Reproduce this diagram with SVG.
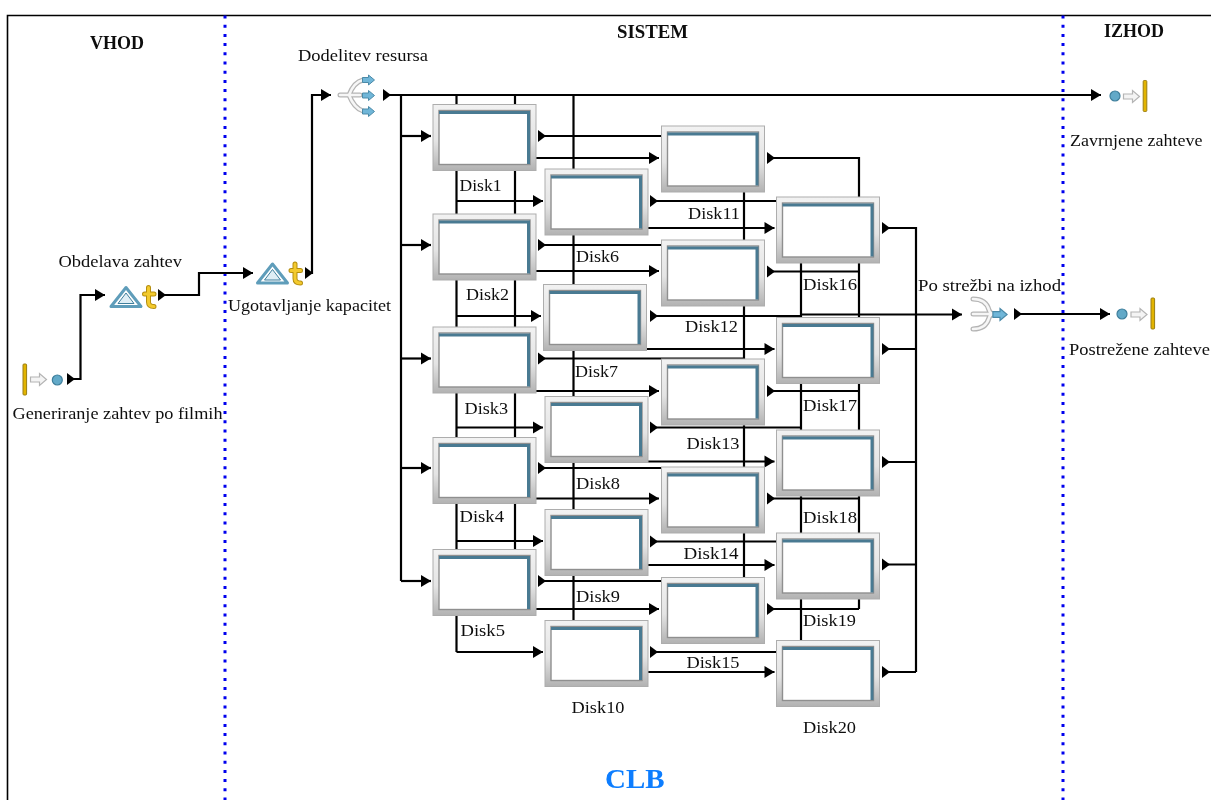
<svg xmlns="http://www.w3.org/2000/svg" xmlns:xlink="http://www.w3.org/1999/xlink" width="1211" height="800" viewBox="0 0 1211 800">
<style>
text{font-family:"Liberation Serif","Times New Roman",serif;font-size:17px;fill:#111}
.h{font-weight:bold;font-size:18px}
.clb{font-weight:bold;font-size:28px;fill:#0a7dff}
.c{fill:none;stroke:#000;stroke-width:2.2}
.a{marker-end:url(#arrow)}
.p{marker-start:url(#port)}
.d{fill:none;stroke:#0000ee;stroke-width:3;stroke-dasharray:3 6.2}
.ar{stroke:#4c8aa8;stroke-width:1;fill:#6fb6d8}
.wa{stroke:#b4b4b4;stroke-width:1.2;fill:#f4f4f4}
.bar{fill:#e2b400;stroke:#9a7d10;stroke-width:1}
.dot{fill:#62a9c8;stroke:#3f7f9c;stroke-width:1.2}
.arm{fill:none;stroke:#b4b4b4;stroke-width:5;stroke-linecap:round}
.armi{fill:none;stroke:#f6f6f6;stroke-width:2.6;stroke-linecap:round}
</style>
<defs>
<filter id="soft" x="0" y="0" width="100%" height="100%" filterUnits="userSpaceOnUse" primitiveUnits="userSpaceOnUse"><feGaussianBlur stdDeviation="0.4"/></filter>
<linearGradient id="frame" x1="0" y1="0" x2="0" y2="1"><stop offset="0" stop-color="#f2f2f2"/><stop offset="0.55" stop-color="#e4e4e4"/><stop offset="1" stop-color="#b2b2b2"/></linearGradient>
<marker id="arrow" markerUnits="userSpaceOnUse" markerWidth="11" markerHeight="13" refX="10.5" refY="6.5" orient="auto"><path d="M0.5,0.5 L10.5,6.5 L0.5,12.5 Z" fill="#000"/></marker>
<marker id="port" markerUnits="userSpaceOnUse" markerWidth="9" markerHeight="13" refX="0.5" refY="6.5" orient="auto"><path d="M0.5,0.5 L8.5,6.5 L0.5,12.5 Z" fill="#000"/></marker>
<symbol id="disk" width="104" height="67" viewBox="0 0 104 67" overflow="visible">
<rect x="0.5" y="0.5" width="103" height="66" fill="url(#frame)" stroke="#adadad"/>
<rect x="6.5" y="6.5" width="91" height="54" fill="#fff" stroke="#8f8f8f" stroke-width="1.4"/>
<path d="M6.5,8.5 H97.5 M96,7 V60" fill="none" stroke="#4a7a92" stroke-width="3"/>
</symbol>
<symbol id="queue" width="46" height="24" viewBox="0 0 46 24" overflow="visible">
<path d="M16,2 L31,21 H1 Z" fill="#fff" stroke="#5f9dba" stroke-width="3" stroke-linejoin="round"/>
<path d="M16,7.5 L24,18 H8 Z" fill="#dfeef5" stroke="#3f7f9c" stroke-width="1"/>
<path d="M38.5,2 V16.5 Q38.5,21 44,21 M34.5,8.5 H44" fill="none" stroke="#b58e10" stroke-width="5" stroke-linecap="round"/>
<path d="M38.5,2 V16.5 Q38.5,21 44,21 M34.5,8.5 H44" fill="none" stroke="#f3ca2e" stroke-width="3" stroke-linecap="round"/>
</symbol>
<symbol id="blockS" width="13" height="11" viewBox="0 0 13 11" overflow="visible"><path class="ar" d="M0.5,3 H6.5 V0.5 L12.5,5.5 L6.5,10.5 V8 H0.5 Z"/></symbol>
<symbol id="blockW" width="17" height="13" viewBox="0 0 17 13" overflow="visible"><path class="wa" d="M0.5,4 H9.5 V0.5 L16.5,6.5 L9.5,12.5 V9 H0.5 Z"/></symbol>
</defs>
<rect width="1211" height="800" fill="#fff"/>
<g filter="url(#soft)">
<g id="frame-lines">
<path d="M7.5,800 V15.5 H1211" fill="none" stroke="#000" stroke-width="1.6"/>
<path class="d" d="M225,15.5 V800"/>
<path class="d" d="M1063,15.5 V800"/>
</g>
<g id="connectors">
<polyline class="c p a" points="67,379 80.5,379 80.5,295 105,295"/>
<polyline class="c p a" points="158,295 199,295 199,273 253,273"/>
<polyline class="c p a" points="305,273 312,273 312,95 331,95"/>
<polyline class="c p a" points="383,95 1101,95"/>
<polyline class="c" points="401,95 401,581"/>
<polyline class="c a" points="401,136 431,136"/>
<polyline class="c a" points="401,245 431,245"/>
<polyline class="c a" points="401,358.5 431,358.5"/>
<polyline class="c a" points="401,468 431,468"/>
<polyline class="c a" points="401,581 431,581"/>
<polyline class="c" points="456.5,95 456.5,652"/>
<polyline class="c" points="515,95 515,560"/>
<polyline class="c" points="573.5,95 573.5,630"/>
<polyline class="c a" points="456.5,201 543,201"/>
<polyline class="c a" points="456.5,316 541,316"/>
<polyline class="c a" points="456.5,427.5 543,427.5"/>
<polyline class="c a" points="456.5,541 543,541"/>
<polyline class="c a" points="456.5,652 543,652"/>
<polyline class="c p" points="538,136 744,136"/>
<polyline class="c p" points="538,245 700,245"/>
<polyline class="c p" points="538,358.5 744,358.5"/>
<polyline class="c p" points="538,468 700,468"/>
<polyline class="c p" points="538,581 700,581"/>
<polyline class="c" points="744,136 744,581"/>
<polyline class="c a" points="530,158 659,158"/>
<polyline class="c a" points="530,271 659,271"/>
<polyline class="c a" points="530,391 659,391"/>
<polyline class="c a" points="530,498.5 659,498.5"/>
<polyline class="c a" points="530,609 659,609"/>
<polyline class="c p" points="650,201 801,201"/>
<polyline class="c p" points="650,316 801,316"/>
<polyline class="c p" points="650,427.5 801,427.5"/>
<polyline class="c p" points="650,541.5 801,541.5"/>
<polyline class="c p" points="650,652 801,652"/>
<polyline class="c" points="801,201 801,652"/>
<polyline class="c a" points="640,228 774.5,228"/>
<polyline class="c a" points="640,349 774.5,349"/>
<polyline class="c a" points="640,461.5 774.5,461.5"/>
<polyline class="c a" points="640,565 774.5,565"/>
<polyline class="c a" points="640,672 774.5,672"/>
<polyline class="c p" points="767,158 859,158 859,609"/>
<polyline class="c p" points="767,271.5 859,271.5"/>
<polyline class="c p" points="767,391 859,391"/>
<polyline class="c p" points="767,498.5 859,498.5"/>
<polyline class="c p" points="767,609 859,609"/>
<polyline class="c a" points="801,314.5 962,314.5"/>
<polyline class="c p" points="882,228 916,228 916,672"/>
<polyline class="c p" points="882,349 916,349"/>
<polyline class="c p" points="882,462 916,462"/>
<polyline class="c p" points="882,564.5 916,564.5"/>
<polyline class="c p" points="882,672 916,672"/>
<polyline class="c p a" points="1014,314 1110,314"/>
</g>
<g id="disk1"><use href="#disk" x="432.5" y="104"/><text x="459.5" y="191" textLength="42" lengthAdjust="spacingAndGlyphs">Disk1</text></g>
<g id="disk2"><use href="#disk" x="432.5" y="213.5"/><text x="466" y="300" textLength="43" lengthAdjust="spacingAndGlyphs">Disk2</text></g>
<g id="disk3"><use href="#disk" x="432.5" y="326.5"/><text x="464.5" y="413.5" textLength="43.5" lengthAdjust="spacingAndGlyphs">Disk3</text></g>
<g id="disk4"><use href="#disk" x="432.5" y="437"/><text x="459.5" y="522" textLength="44.5" lengthAdjust="spacingAndGlyphs">Disk4</text></g>
<g id="disk5"><use href="#disk" x="432.5" y="549"/><text x="460.5" y="635.5" textLength="44.5" lengthAdjust="spacingAndGlyphs">Disk5</text></g>
<g id="disk6"><use href="#disk" x="544.5" y="168.5"/><text x="576" y="261.5" textLength="43" lengthAdjust="spacingAndGlyphs">Disk6</text></g>
<g id="disk7"><use href="#disk" x="543" y="284"/><text x="575" y="376.5" textLength="43" lengthAdjust="spacingAndGlyphs">Disk7</text></g>
<g id="disk8"><use href="#disk" x="544.5" y="396"/><text x="576" y="489" textLength="44" lengthAdjust="spacingAndGlyphs">Disk8</text></g>
<g id="disk9"><use href="#disk" x="544.5" y="509"/><text x="576" y="602" textLength="44" lengthAdjust="spacingAndGlyphs">Disk9</text></g>
<g id="disk10"><use href="#disk" x="544.5" y="620"/><text x="571.5" y="712.5" textLength="53" lengthAdjust="spacingAndGlyphs">Disk10</text></g>
<g id="disk11"><use href="#disk" x="661" y="125.5"/><text x="688" y="218.5" textLength="52" lengthAdjust="spacingAndGlyphs">Disk11</text></g>
<g id="disk12"><use href="#disk" x="661" y="239.5"/><text x="685" y="332" textLength="53" lengthAdjust="spacingAndGlyphs">Disk12</text></g>
<g id="disk13"><use href="#disk" x="661" y="358.5"/><text x="686.5" y="448.5" textLength="53" lengthAdjust="spacingAndGlyphs">Disk13</text></g>
<g id="disk14"><use href="#disk" x="661" y="466.5"/><text x="683.5" y="559" textLength="55" lengthAdjust="spacingAndGlyphs">Disk14</text></g>
<g id="disk15"><use href="#disk" x="661" y="577"/><text x="686.5" y="668" textLength="53" lengthAdjust="spacingAndGlyphs">Disk15</text></g>
<g id="disk16"><use href="#disk" x="776" y="196.5"/><text x="803" y="290" textLength="54" lengthAdjust="spacingAndGlyphs">Disk16</text></g>
<g id="disk17"><use href="#disk" x="776" y="317"/><text x="803" y="410.5" textLength="54" lengthAdjust="spacingAndGlyphs">Disk17</text></g>
<g id="disk18"><use href="#disk" x="776" y="429.5"/><text x="803" y="522.5" textLength="54" lengthAdjust="spacingAndGlyphs">Disk18</text></g>
<g id="disk19"><use href="#disk" x="776" y="532.5"/><text x="803" y="625.5" textLength="53" lengthAdjust="spacingAndGlyphs">Disk19</text></g>
<g id="disk20"><use href="#disk" x="776" y="640"/><text x="803" y="733" textLength="53" lengthAdjust="spacingAndGlyphs">Disk20</text></g>
<g id="generiranje">
<rect class="bar" x="23" y="364" width="3.6" height="31" rx="1"/>
<use href="#blockW" x="30" y="373"/>
<circle class="dot" cx="57.3" cy="380" r="5"/>
<text x="12.5" y="418.5" textLength="210" lengthAdjust="spacingAndGlyphs">Generiranje zahtev po filmih</text>
</g>
<g id="obdelava"><use href="#queue" x="110" y="285.5"/><text x="58.5" y="266.5" textLength="123.5" lengthAdjust="spacingAndGlyphs">Obdelava zahtev</text></g>
<g id="ugotavljanje"><use href="#queue" x="256.5" y="262"/><text x="228" y="310.5" textLength="163" lengthAdjust="spacingAndGlyphs">Ugotavljanje kapacitet</text></g>
<g id="dodelitev">
<path class="arm" d="M340,95 H360 M349,95 Q354,82 363,80 M349,95 Q354,108 363,111"/>
<path class="armi" d="M340,95 H360 M349,95 Q354,82 363,80 M349,95 Q354,108 363,111"/>
<use href="#blockS" x="362" y="74.5"/><use href="#blockS" x="362" y="90"/><use href="#blockS" x="362" y="106"/>
<text x="298" y="60.5" textLength="130" lengthAdjust="spacingAndGlyphs">Dodelitev resursa</text>
</g>
<g id="postrezba">
<path class="arm" d="M973,299 Q986,299 989,310 Q990,314 994,314 M973,329 Q986,329 989,318 Q990,314 994,314 M973,314 H994"/>
<path class="armi" d="M973,299 Q986,299 989,310 Q990,314 994,314 M973,329 Q986,329 989,318 Q990,314 994,314 M973,314 H994"/>
<use href="#blockS" x="992" y="308" width="16" height="13"/>
<text x="918" y="290.5" textLength="143" lengthAdjust="spacingAndGlyphs">Po strežbi na izhod</text>
</g>
<g id="zavrnjene">
<circle class="dot" cx="1115" cy="96" r="5"/>
<use href="#blockW" x="1123" y="90"/>
<rect class="bar" x="1143.2" y="80.5" width="3.6" height="31" rx="1"/>
<text x="1070" y="146" textLength="132.5" lengthAdjust="spacingAndGlyphs">Zavrnjene zahteve</text>
</g>
<g id="postrezene">
<circle class="dot" cx="1122" cy="314" r="5"/>
<use href="#blockW" x="1130.5" y="308"/>
<rect class="bar" x="1151" y="298" width="3.6" height="31" rx="1"/>
<text x="1069" y="355" textLength="141" lengthAdjust="spacingAndGlyphs">Postrežene zahteve</text>
</g>
<g id="titles">
<text class="h" x="90" y="48.5" textLength="54" lengthAdjust="spacingAndGlyphs">VHOD</text>
<text class="h" x="617" y="38" textLength="71" lengthAdjust="spacingAndGlyphs">SISTEM</text>
<text class="h" x="1104" y="37" textLength="60" lengthAdjust="spacingAndGlyphs">IZHOD</text>
<text class="clb" x="605" y="788" textLength="59.5" lengthAdjust="spacingAndGlyphs">CLB</text>
</g>
</g>
</svg>
